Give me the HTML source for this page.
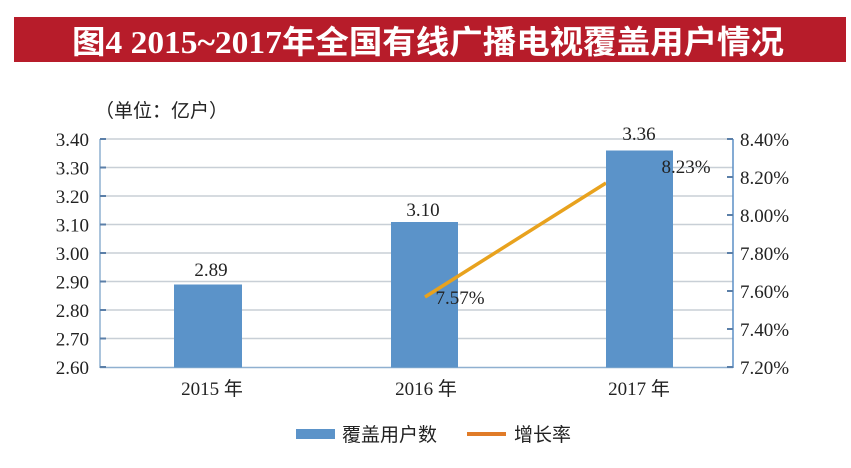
<!DOCTYPE html>
<html><head><meta charset="utf-8"><style>
body{margin:0;background:#fff;width:851px;height:463px;overflow:hidden;font-family:"Liberation Serif","Noto Serif CJK SC",serif}
</style></head><body>
<svg width="851" height="463" viewBox="0 0 851 463" xmlns="http://www.w3.org/2000/svg" font-family="Liberation Serif, Noto Serif CJK SC, serif">
<rect x="0" y="0" width="851" height="463" fill="#fff"/>
<rect x="14" y="17" width="832" height="45" fill="#b71c2a"/>
<text x="72" y="53" fill="#fff" font-size="32" font-weight="bold" textLength="712" lengthAdjust="spacingAndGlyphs" font-family="Liberation Serif, Noto Sans CJK SC, serif">图4 2015~2017年全国有线广播电视覆盖用户情况</text>
<text x="95" y="117" font-size="19" fill="#222" font-family="Liberation Serif, Noto Sans CJK SC, serif">（单位：亿户）</text>
<g stroke="#c8cfd6" stroke-width="1.5">
<line x1="100" y1="139" x2="733" y2="139"/><line x1="100" y1="167.5" x2="733" y2="167.5"/>
<line x1="100" y1="196" x2="733" y2="196"/><line x1="100" y1="224.5" x2="733" y2="224.5"/>
<line x1="100" y1="253" x2="733" y2="253"/><line x1="100" y1="281.5" x2="733" y2="281.5"/>
<line x1="100" y1="310" x2="733" y2="310"/><line x1="100" y1="338.5" x2="733" y2="338.5"/>
</g>
<line x1="100" y1="139" x2="100" y2="368" stroke="#8fb0d0" stroke-width="1.5"/>
<line x1="733" y1="139" x2="733" y2="368" stroke="#5b8fc6" stroke-width="1.5"/>
<line x1="100" y1="367.5" x2="733" y2="367.5" stroke="#8fb0d0" stroke-width="1.5"/>
<g stroke="#5b7fa8" stroke-width="2">
<line x1="100" y1="139" x2="106" y2="139"/><line x1="100" y1="167.5" x2="106" y2="167.5"/><line x1="100" y1="196" x2="106" y2="196"/><line x1="100" y1="224.5" x2="106" y2="224.5"/><line x1="100" y1="253" x2="106" y2="253"/><line x1="100" y1="281.5" x2="106" y2="281.5"/><line x1="100" y1="310" x2="106" y2="310"/><line x1="100" y1="338.5" x2="106" y2="338.5"/><line x1="100" y1="367" x2="106" y2="367"/>
<line x1="727" y1="139" x2="733" y2="139"/><line x1="727" y1="177" x2="733" y2="177"/><line x1="727" y1="215" x2="733" y2="215"/><line x1="727" y1="253" x2="733" y2="253"/><line x1="727" y1="291" x2="733" y2="291"/><line x1="727" y1="329" x2="733" y2="329"/><line x1="727" y1="367" x2="733" y2="367"/>
</g>
<g fill="#5b93c9">
<rect x="174" y="284.5" width="68" height="83"/>
<rect x="391" y="222" width="67" height="145.5"/>
</g>
<line x1="425" y1="297" x2="606" y2="183" stroke="#e8a21e" stroke-width="3.5"/>
<rect x="606" y="150.5" width="67" height="217" fill="#5b93c9"/>
<g font-size="19" fill="#222" text-anchor="end">
<text x="89" y="146">3.40</text><text x="89" y="174.5">3.30</text><text x="89" y="203">3.20</text><text x="89" y="231.5">3.10</text><text x="89" y="260">3.00</text><text x="89" y="288.5">2.90</text><text x="89" y="317">2.80</text><text x="89" y="345.5">2.70</text><text x="89" y="374">2.60</text>
</g>
<g font-size="19" fill="#222">
<text x="740" y="146">8.40%</text><text x="740" y="184">8.20%</text><text x="740" y="222">8.00%</text><text x="740" y="260">7.80%</text><text x="740" y="298">7.60%</text><text x="740" y="336">7.40%</text><text x="740" y="374">7.20%</text>
</g>
<g font-size="19" fill="#222" text-anchor="middle">
<text x="211" y="276">2.89</text><text x="423" y="216">3.10</text><text x="639" y="140">3.36</text>
<text x="460" y="304">7.57%</text><text x="686" y="173">8.23%</text>
<text x="212" y="395" font-family="Liberation Serif, Noto Sans CJK SC, serif">2015 年</text>
<text x="426" y="395" font-family="Liberation Serif, Noto Sans CJK SC, serif">2016 年</text>
<text x="639" y="395" font-family="Liberation Serif, Noto Sans CJK SC, serif">2017 年</text>
</g>
<rect x="296" y="429" width="39" height="10" fill="#5b93c9"/>
<text x="342" y="441" font-size="19" fill="#222" font-family="Liberation Serif, Noto Sans CJK SC, serif">覆盖用户数</text>
<line x1="467" y1="434" x2="506" y2="434" stroke="#e07b28" stroke-width="4"/>
<text x="514" y="441" font-size="19" fill="#222" font-family="Liberation Serif, Noto Sans CJK SC, serif">增长率</text>
</svg>
</body></html>
